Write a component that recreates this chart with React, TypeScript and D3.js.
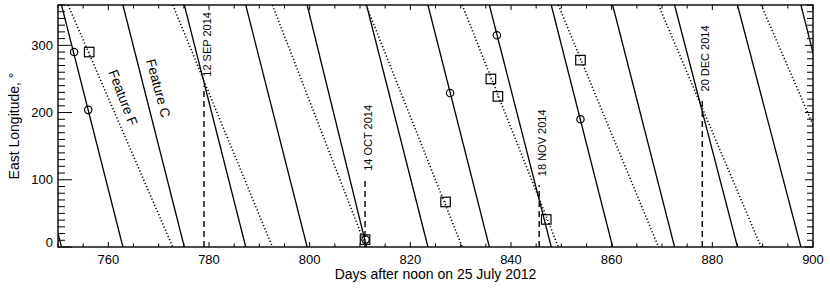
import React, { useEffect, useRef } from "react";
import * as d3 from "d3";

// days where each drifting feature wraps from 0 back round to 360 deg
const featureCWraps = [738.5, 750.7, 762.9, 775.1, 787.3, 799.5, 811.3, 823.5, 835.7, 848.0, 860.2, 872.5, 885.0, 897.6, 909.8];
const featureFWraps = [752.0, 772.8, 792.6, 811.2, 830.3, 849.4, 869.3, 889.7, 910.5];

// observed positions
const circleDays = [753.2, 756.0, 811.1, 827.9, 837.2, 853.8];
const circleLons = [290, 204, 11, 229, 315, 190];
const squareDays = [756.2, 811.0, 827.0, 836.0, 837.4, 847.0, 853.8];
const squareLons = [290, 11, 67, 250, 224, 41, 278];

// dated observations
const dateLabels = ["12 SEP 2014", "14 OCT 2014", "18 NOV 2014", "20 DEC 2014"];
const dateDays = [779, 811, 845.6, 878];
const dateTopLons = [240, 100, 92, 218];

const featureNames = ["Feature F", "Feature C"];
const featureLabelDays = [762.9, 769.9];
const featureLabelLons = [222, 236];

const xTicks = [760, 780, 800, 820, 840, 860, 880, 900];
const yTicks = [0, 100, 200, 300];

const W = 830;
const H = 291;
const FONT = "'Liberation Sans', Arial, Helvetica, sans-serif";

export default function App() {
  const svgRef = useRef<SVGSVGElement>(null);

  useEffect(() => {
    const left = 58, right = 813, top = 5, bottom = 247;
    const svg = d3.select(svgRef.current);
    svg.selectAll("*").remove();

    const x = d3.scaleLinear().domain([750, 900]).range([left, right]);
    const y = d3.scaleLinear().domain([0, 360]).range([bottom, top]);

    svg.append("defs").append("clipPath").attr("id", "plotclip")
      .append("rect").attr("x", left).attr("y", top)
      .attr("width", right - left).attr("height", bottom - top);

    const plot = svg.append("g").attr("clip-path", "url(#plotclip)");
    const line = d3.line<[number, number]>().x((d) => x(d[0])).y((d) => y(d[1]));

    // segments between wraps
    const segs = (w: number[]) =>
      d3.pairs(w).map(([a, b]) => [[a, 360], [b, 0]] as [number, number][]);

    plot.selectAll(".fc").data(segs(featureCWraps)).join("path")
      .attr("d", (d) => line(d))
      .attr("fill", "none").attr("stroke", "#000").attr("stroke-width", 1.3);

    plot.selectAll(".ff").data(segs(featureFWraps)).join("path")
      .attr("d", (d) => line(d))
      .attr("fill", "none").attr("stroke", "#000").attr("stroke-width", 1.6)
      .attr("stroke-dasharray", "1.2 2.2");

    // dashed date markers
    dateDays.forEach((day, i) => {
      plot.append("line")
        .attr("x1", x(day)).attr("x2", x(day))
        .attr("y1", y(0)).attr("y2", y(dateTopLons[i]))
        .attr("stroke", "#000").attr("stroke-width", 1.4)
        .attr("stroke-dasharray", "6 4");
      svg.append("text")
        .attr("transform", `translate(${x(day) + 3},${y(dateTopLons[i]) - 9}) rotate(-90)`)
        .attr("dominant-baseline", "central")
        .attr("font-family", FONT).attr("font-size", 11)
        .text(dateLabels[i]);
    });

    // markers
    plot.selectAll(".circ").data(circleDays).join("circle")
      .attr("cx", (d) => x(d)).attr("cy", (d, i) => y(circleLons[i]))
      .attr("r", 3.7).attr("fill", "none").attr("stroke", "#000").attr("stroke-width", 1.2);

    const sq = 9.5;
    plot.selectAll(".sq").data(squareDays).join("rect")
      .attr("x", (d) => x(d) - sq / 2).attr("y", (d, i) => y(squareLons[i]) - sq / 2)
      .attr("width", sq).attr("height", sq)
      .attr("fill", "none").attr("stroke", "#000").attr("stroke-width", 1.2);
    plot.selectAll(".sqdot").data(squareDays).join("rect")
      .attr("x", (d) => x(d) - 0.5).attr("y", (d, i) => y(squareLons[i]) - 0.5)
      .attr("width", 1).attr("height", 1).attr("fill", "#000");

    // feature names along the tracks
    featureNames.forEach((name, i) => {
      svg.append("text")
        .attr("transform", `translate(${x(featureLabelDays[i])},${y(featureLabelLons[i])}) rotate(${i === 0 ? 69 : 75})`)
        .attr("text-anchor", "middle").attr("dominant-baseline", "central")
        .attr("font-family", FONT).attr("font-size", 13.5)
        .text(name);
    });

    // ticks
    const ax = svg.append("g").attr("stroke", "#000").attr("stroke-width", 1);
    const xMinor = d3.range(750, 901, 5);
    xMinor.forEach((v) => {
      const len = v % 20 === 0 ? 5 : 3.5;
      ax.append("line").attr("x1", x(v)).attr("x2", x(v)).attr("y1", bottom).attr("y2", bottom - len);
      ax.append("line").attr("x1", x(v)).attr("x2", x(v)).attr("y1", top).attr("y2", top + len);
    });
    const yMinor = d3.range(0, 361, 10);
    yMinor.forEach((v) => {
      const major = v % 100 === 0;
      ax.append("line").attr("x1", left).attr("x2", left + (major ? 14 : 7)).attr("y1", y(v)).attr("y2", y(v));
      ax.append("line").attr("x1", right).attr("x2", right - (major ? 8 : 6)).attr("y1", y(v)).attr("y2", y(v));
    });

    svg.append("rect").attr("x", left).attr("y", top)
      .attr("width", right - left).attr("height", bottom - top)
      .attr("fill", "none").attr("stroke", "#000").attr("stroke-width", 1.4);

    // tick labels
    svg.selectAll(".xl").data(xTicks).join("text")
      .attr("x", (d) => x(d)).attr("y", 264)
      .attr("text-anchor", "middle")
      .attr("font-family", FONT).attr("font-size", 13)
      .text((d) => d);
    svg.selectAll(".yl").data(yTicks).join("text")
      .attr("x", left - 5).attr("y", (d) => Math.min(y(d), bottom - 5))
      .attr("text-anchor", "end").attr("dominant-baseline", "central")
      .attr("font-family", FONT).attr("font-size", 13)
      .text((d) => d);

    svg.append("text")
      .attr("x", (left + right) / 2).attr("y", 279)
      .attr("text-anchor", "middle")
      .attr("font-family", FONT).attr("font-size", 14)
      .text("Days after noon on 25 July 2012");
    svg.append("text")
      .attr("transform", `translate(18.5,${(top + bottom) / 2}) rotate(-90)`)
      .attr("text-anchor", "middle")
      .attr("font-family", FONT).attr("font-size", 14)
      .text("East Longitude, \u00b0");
  }, []);

  return (
    <svg
      ref={svgRef}
      width={W}
      height={H}
      style={{ position: "absolute", left: 0, top: 0, background: "#fff" }}
    />
  );
}
